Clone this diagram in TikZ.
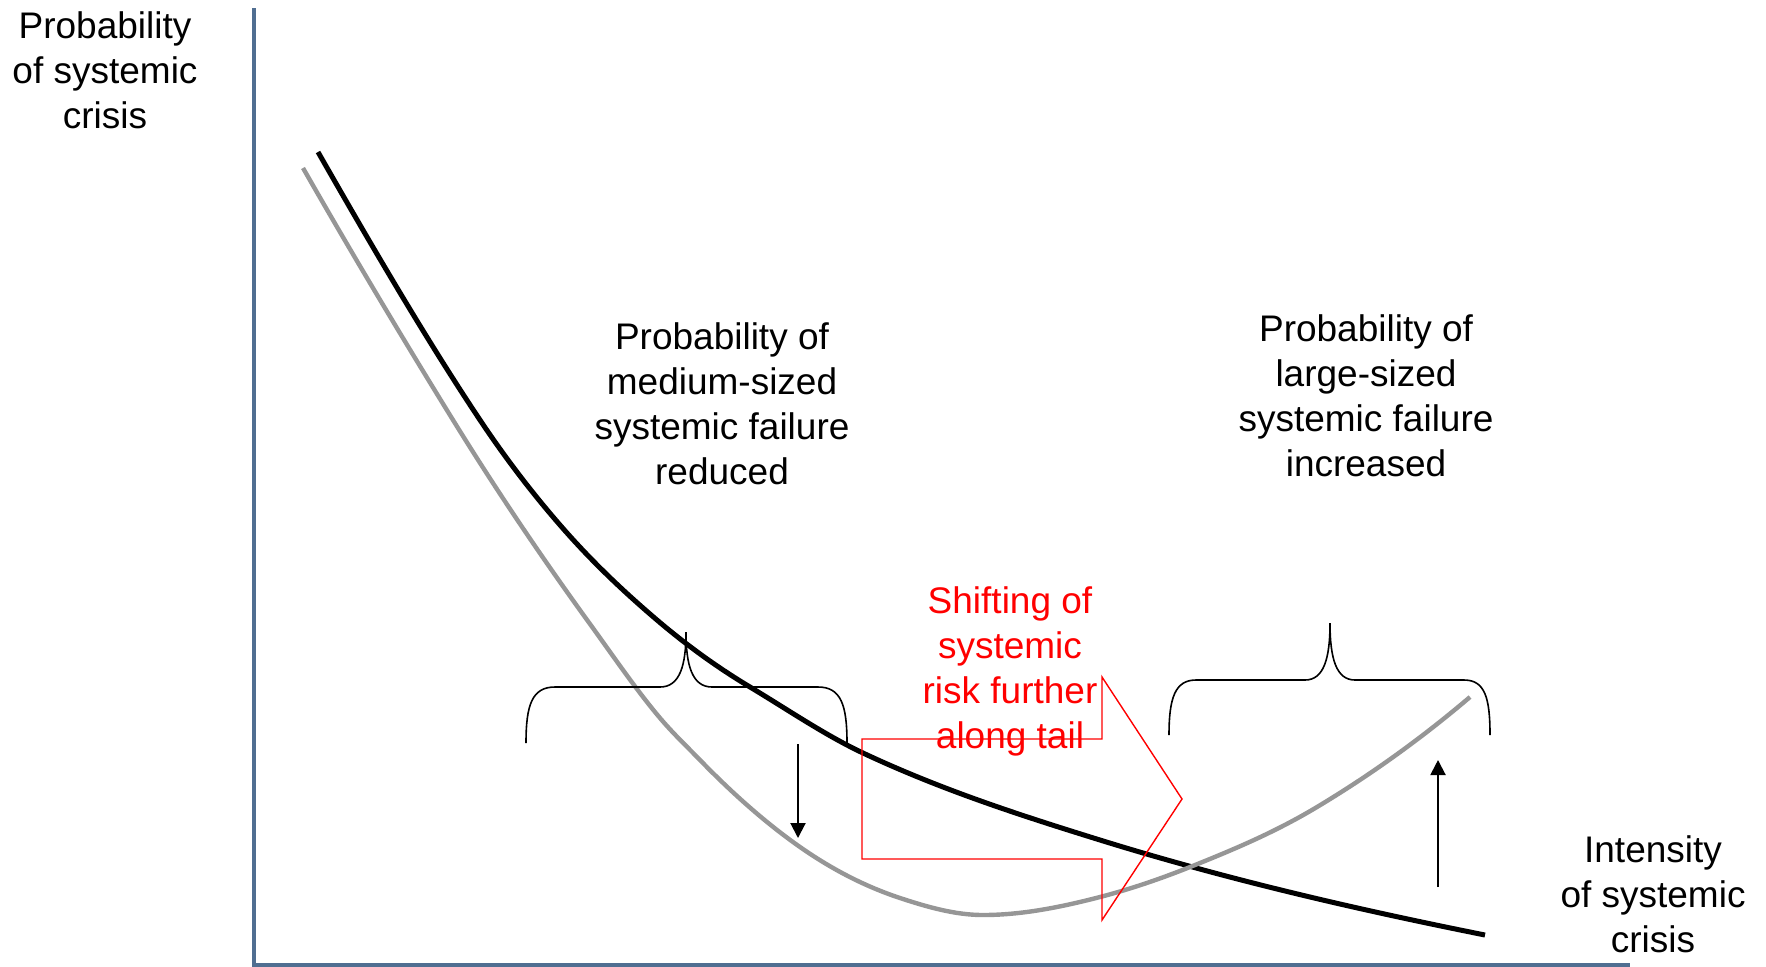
\documentclass[tikz,border=0pt]{standalone}
\usepackage{fontspec}
\setmainfont{Liberation Sans}
\usetikzlibrary{arrows.meta}
\definecolor{axisblue}{RGB}{80,110,145}
\definecolor{curvegray}{RGB}{150,150,150}
\begin{document}
\begin{tikzpicture}[x=0.5pt,y=-0.5pt,
  lbl/.style={align=center,inner sep=0pt,font=\fontsize{18.5}{22.5}\selectfont},
  axisline/.style={line width=1.8pt,draw=axisblue},
  oldcurve/.style={line width=2.5pt,draw=black},
  newcurve/.style={line width=2.2pt,draw=curvegray},
  bracestyle/.style={line width=0.8pt,draw=black},
  movearrow/.style={line width=1pt,draw=black,-{Triangle[length=7.5pt,width=7.5pt]}},
  shiftshape/.style={line width=0.7pt,draw=red}]
\useasboundingbox (0,0) rectangle (1766,966);

% axes
\coordinate (ytop) at (254,8);
\coordinate (orig) at (254,965);
\coordinate (xend) at (1630,965);
\draw[axisline] (ytop) -- (orig) -- (xend);

% curve before (black)
\draw[oldcurve] (318,152)
  .. controls (372,246.5) and (426,339) .. (480,420)
  .. controls (506.7,460) and (533.3,494.3) .. (560,525)
  .. controls (592.3,562.2) and (624.7,592.5) .. (657,620)
  .. controls (688,646.4) and (719,668.4) .. (750,687)
  .. controls (787.7,709.6) and (825.3,735.3) .. (863,753)
  .. controls (942,790.1) and (1021,815.5) .. (1100,840)
  .. controls (1228.3,879.8) and (1356.7,909.3) .. (1485,935);

% curve after (gray)
\draw[newcurve] (303,168)
  .. controls (353,255.5) and (403,339) .. (453,420)
  .. controls (498.7,494) and (544.3,561) .. (590,624)
  .. controls (613.3,656.2) and (636.7,690.5) .. (660,718)
  .. controls (673.3,733.7) and (686.7,746.3) .. (700,760)
  .. controls (733.3,794.3) and (766.7,823.7) .. (800,847)
  .. controls (833.3,870.3) and (866.7,887) .. (900,898)
  .. controls (927.7,907.1) and (955.3,915) .. (983,915)
  .. controls (1022,915) and (1061,907.1) .. (1100,897)
  .. controls (1130,889.2) and (1160,879) .. (1190,867)
  .. controls (1232.3,850.1) and (1274.7,832.4) .. (1317,807)
  .. controls (1368,776.4) and (1419,740.4) .. (1470,697);

% left brace
\draw[bracestyle] (526,743) .. controls (526,705) and (532,687) .. (555,687) -- (660,687) .. controls (680,687) and (686,665) .. (686,632)
  .. controls (686,665) and (692,687) .. (712,687) -- (818,687) .. controls (841,687) and (847,705) .. (847,743);
% right brace
\draw[bracestyle] (1169,735) .. controls (1169,698) and (1175,680) .. (1196,680) -- (1305,680) .. controls (1324,680) and (1330,658) .. (1330,623)
  .. controls (1330,658) and (1336,680) .. (1355,680) -- (1464,680) .. controls (1485,680) and (1490,698) .. (1490,735);

% arrows
\coordinate (dtop) at (798,744);
\coordinate (dbot) at (798,838);
\draw[movearrow] (dtop) -- (dbot);
\coordinate (ubot) at (1438,887);
\coordinate (utop) at (1438,760);
\draw[movearrow] (ubot) -- (utop);

% red block arrow
\draw[shiftshape] (862,739) -- (1102,739) -- (1102,677) -- (1182,799) -- (1102,920) -- (1102,859) -- (862,859) -- cycle;

% labels
\node[lbl] (ylab) at (105,70) {Probability\\of systemic\\crisis};
\node[lbl] (xlab) at (1653,894) {Intensity\\of systemic\\crisis};
\node[lbl] (medium) at (722,404) {Probability of\\medium-sized\\systemic failure\\reduced};
\node[lbl] (large) at (1366,396) {Probability of\\large-sized\\systemic failure\\increased};
\node[lbl,text=red] (shift) at (1010,671) {Shifting of\\systemic\\risk further\\along tail};
\end{tikzpicture}
\end{document}
